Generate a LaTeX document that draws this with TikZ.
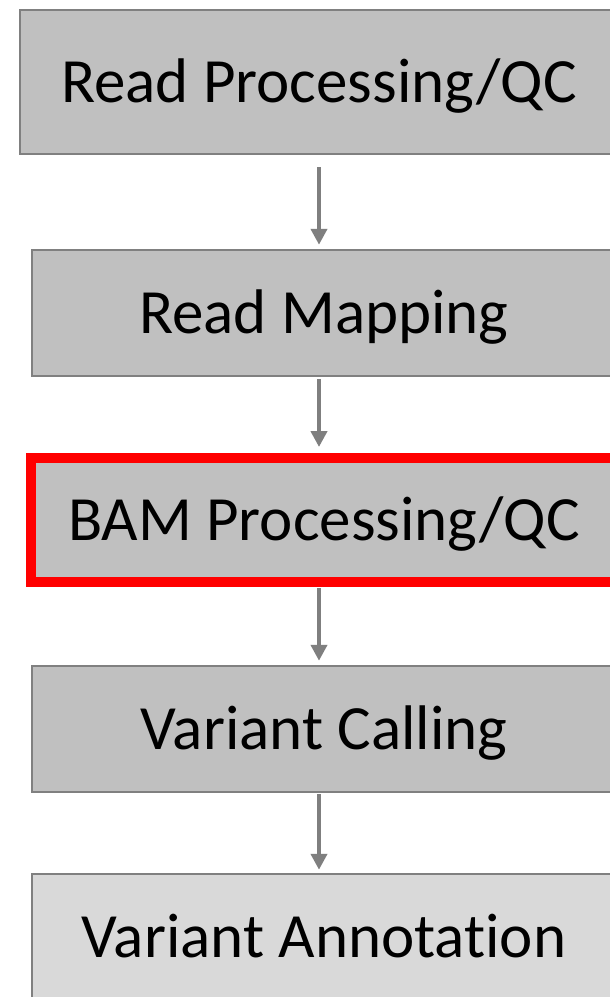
\documentclass[tikz,border=0pt]{standalone}
\usepackage{fontspec}
\setmainfont{Carlito}[Ligatures=NoCommon]
\usetikzlibrary{arrows.meta}
\definecolor{boxgray}{HTML}{C0C0C0}
\definecolor{boxlight}{HTML}{D9D9D9}
\definecolor{edgegray}{HTML}{808080}
\definecolor{arrowgray}{HTML}{7F7F7F}
\tikzset{
  stage/.style={draw=edgegray, line width=2.5pt, fill=boxgray, rectangle,
    inner sep=0pt, text height=40.6pt, text depth=0pt,
    font=\fontsize{63}{75}\selectfont},
  focus/.style={stage, draw=red, line width=10pt},
  arr/.style={draw=arrowgray, line width=4pt,
    -{Triangle[width=16pt,length=16pt]}}
}
\begin{document}
\begin{tikzpicture}[x=1pt, y=-1pt]
  \clip (0,0) rectangle (610,997);
  \fill[white] (0,0) rectangle (610,997);

  % pipeline stages
  \node[stage, minimum width=598pt, minimum height=144pt] (b1) at (319,82) {Read Processing/QC};
  \node[stage, minimum width=584pt, minimum height=126pt] (b2) at (324,313) {Read Mapping};
  \node[focus, minimum width=586pt, minimum height=124.5pt] (b3) at (324,519.75) {BAM Processing/QC};
  \node[stage, minimum width=584pt, minimum height=126pt] (b4) at (324,729) {Variant Calling};
  \node[stage, fill=boxlight, minimum width=584pt, minimum height=126pt] (b5) at (324,937) {Variant Annotation};

  % connectors between stages
  \draw[arr, shorten <=12pt, shorten >=4pt] (b1.south) -- (b1.south |- b2.north);
  \draw[arr, shorten <=2pt, shorten >=5.5pt] (b2.south -| b1.south) -- (b3.north -| b1.south);
  \draw[arr, shorten <=1pt, shorten >=4pt] (b3.south -| b1.south) -- (b4.north -| b1.south);
  \draw[arr, shorten <=1pt, shorten >=3pt] (b4.south -| b1.south) -- (b5.north -| b1.south);
\end{tikzpicture}
\end{document}
